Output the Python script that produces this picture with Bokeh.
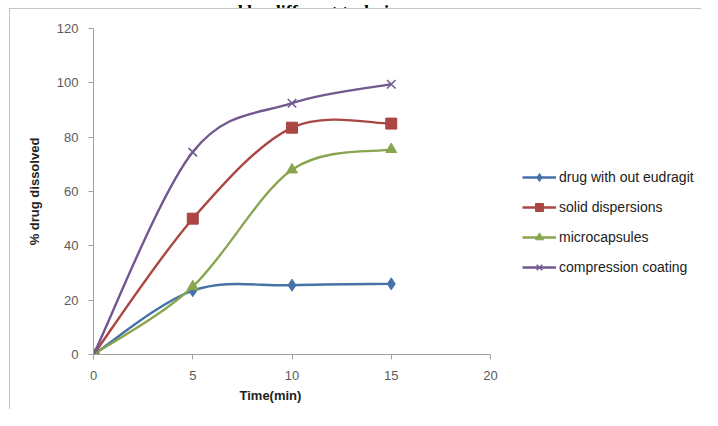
from bokeh.plotting import figure
from bokeh.models import Legend, LegendItem, Range1d, FixedTicker, Title, Label
from bokeh.layouts import column
from bokeh.embed import file_html
from bokeh.resources import INLINE

# ---- data ----
time_min = [0, 5, 10, 15]
drug_without_eudragit = [0, 23.5, 25.5, 26]
solid_dispersions = [0, 50, 83.5, 85]
microcapsules = [0, 25, 68, 75.5]
compression_coating = [0, 74.5, 92.5, 99.5]

series_names = ["drug with out eudragit", "solid dispersions", "microcapsules", "compression coating"]
x_ticks = [0, 5, 10, 15, 20]
y_ticks = [0, 20, 40, 60, 80, 100, 120]
caption_text = "prepared by different techniques"
x_title = "Time(min)"
y_title = "% drug dissolved"

colors = ["#4572A7", "#AA4643", "#89A54E", "#71588F"]
markers = ["diamond", "square", "triangle", "x"]
sizes = [12, 11, 11, 12]

FRAME_LEFT = 83

# ---- cut-off caption strip above the chart box ----
# (its frame is aligned with the main chart's frame by the column layout)
cap = figure(width=702, height=8, output_backend="svg", toolbar_location=None,
             x_axis_type=None, y_axis_type=None, min_border=0,
             x_range=Range1d(0, 1), y_range=Range1d(0, 1))
cap.outline_line_color = None
cap.xgrid.visible = False
cap.ygrid.visible = False
cap.background_fill_color = "white"
cap.border_fill_color = "white"
cap.add_layout(Label(x=172 - FRAME_LEFT, y=1, x_units="screen", y_units="screen",
                     text=caption_text, text_font="Liberation Serif",
                     text_font_size="18px", text_font_style="bold", text_color="#000000",
                     text_baseline="alphabetic", text_align="left"))

# ---- main chart ----
CANVAS_W = 692
AXIS_PX = 397  # pixel length of the 0..20 axis
x_end = x_ticks[-1] * (CANVAS_W - FRAME_LEFT) / AXIS_PX

p = figure(width=CANVAS_W, height=401, output_backend="svg", toolbar_location=None,
           x_range=Range1d(0, x_end), y_range=Range1d(0, 120),
           min_border_left=FRAME_LEFT, min_border_right=0, min_border_top=19,
           min_border_bottom=56)
p.styles = {"margin-left": "9px", "border-left": "1px solid #c4c4c4",
            "border-top": "1px solid #c4c4c4"}
p.xgrid.visible = False
p.ygrid.visible = False
p.outline_line_color = None
p.background_fill_color = "white"
p.border_fill_color = "white"

for ax in (p.xaxis[0], p.yaxis[0]):
    ax.axis_line_color = "#a0a0a0"
    ax.major_tick_line_color = "#a0a0a0"
    ax.minor_tick_line_color = None
    ax.major_tick_out = 5
    ax.major_tick_in = 0
    ax.major_label_text_font = "Liberation Sans"
    ax.major_label_text_font_size = "13px"
    ax.major_label_text_color = "#5a5a5a"
    ax.axis_label_text_font = "Liberation Sans"
    ax.axis_label_text_font_size = "13px"
    ax.axis_label_text_font_style = "bold"
    ax.axis_label_text_color = "#222222"

p.xaxis.bounds = (x_ticks[0], x_ticks[-1])
p.xaxis.ticker = FixedTicker(ticks=x_ticks)
p.yaxis.ticker = FixedTicker(ticks=y_ticks)
p.xaxis.major_label_standoff = 11
p.yaxis.major_label_standoff = 10
p.yaxis.axis_label = y_title
p.yaxis.axis_label_standoff = 12

xt = Title(text=x_title, align="left", offset=146, standoff=6,
           text_font="Liberation Sans", text_font_size="13px", text_font_style="bold",
           text_color="#222222")
p.add_layout(xt, "below")


def bezier_segments(xs, ys):
    n = len(xs)
    x0, y0, x1, y1, cx0, cy0, cx1, cy1 = [], [], [], [], [], [], [], []
    for i in range(n - 1):
        xp, yp = (xs[i - 1], ys[i - 1]) if i > 0 else (xs[i], ys[i])
        xn, yn = (xs[i + 2], ys[i + 2]) if i + 2 < n else (xs[i + 1], ys[i + 1])
        x0.append(xs[i]); y0.append(ys[i])
        x1.append(xs[i + 1]); y1.append(ys[i + 1])
        cx0.append(xs[i] + (xs[i + 1] - xp) / 6.0)
        cy0.append(ys[i] + (ys[i + 1] - yp) / 6.0)
        cx1.append(xs[i + 1] - (xn - xs[i]) / 6.0)
        cy1.append(ys[i + 1] - (yn - ys[i]) / 6.0)
    return dict(x0=x0, y0=y0, x1=x1, y1=y1, cx0=cx0, cy0=cy0, cx1=cx1, cy1=cy1)


all_series = [drug_without_eudragit, solid_dispersions, microcapsules, compression_coating]
items = []
for name, vals, col, mk, sz in zip(series_names, all_series, colors, markers, sizes):
    segs = bezier_segments(time_min, vals)
    bez = p.bezier(line_color=col, line_width=2.4, **segs)
    if mk == "x":
        sc = p.scatter(time_min, vals, marker=mk, size=sz, line_color=col, line_width=1.5)
    else:
        sc = p.scatter(time_min, vals, marker=mk, size=sz, fill_color=col, line_color=col)
    items.append(LegendItem(label=name, renderers=[bez, sc]))

legend = Legend(items=items, location=(429, 77), orientation="vertical",
                border_line_color=None, background_fill_alpha=0,
                label_text_font="Liberation Sans", label_text_font_size="14px",
                label_text_color="#222222", glyph_width=34, glyph_height=20,
                label_standoff=3, spacing=10, padding=0, margin=0)
p.add_layout(legend, "center")

layout = column(cap, p)
open("out.html", "w").write(file_html(layout, INLINE))
